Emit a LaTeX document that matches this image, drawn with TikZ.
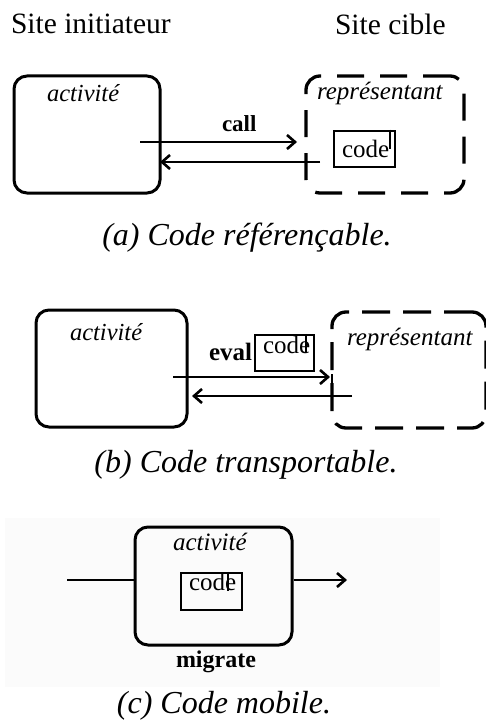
\documentclass[tikz,border=0pt]{standalone}
\usepackage{fontspec}
\setmainfont{Liberation Serif}
\usetikzlibrary{arrows.meta}
\begin{document}
\begin{tikzpicture}[x=1pt,y=-1pt,
  txt/.style={inner sep=0pt, outer sep=0pt, anchor=base west},
  head/.style={txt, font=\fontsize{29.5}{30}\selectfont},
  lab/.style={txt, font=\fontsize{24.5}{25}\selectfont\itshape},
  blab/.style={txt, font=\fontsize{24}{25}\selectfont\bfseries},
  captext/.style={inner sep=0pt, anchor=base, font=\fontsize{32}{32}\selectfont\itshape},
  codetxt/.style={txt, font=\fontsize{25}{25}\selectfont},
  actbox/.style={draw, line width=3pt, rounded corners=13pt, inner sep=0pt},
  repbox/.style={draw, line width=3.3pt, rounded corners=14pt, inner sep=0pt, dash pattern=on 27pt off 16pt},
  codebox/.style={draw, line width=2.5pt, inner sep=0pt},
  tick/.style={line width=1.6pt},
  arr/.style={-{Straight Barb[length=8pt,width=14pt,line width=2.6pt]}},
]
\fill[white] (0,0) rectangle (485,722);
\useasboundingbox (0,0) rectangle (485,722);

% headings
\node[head] (h1) at (11,34) {Site initiateur};
\node[head] (h2) at (335,35) {Site cible};

% ---------- (a)
\node[actbox, minimum width=146pt, minimum height=117pt] (actA) at (87,134.5) {};
\node[lab] (actAl) at (47,102) {activité};
\node[repbox, minimum width=158pt, minimum height=117pt] (repA) at (385,134.5) {};
\node[lab, font=\fontsize{25}{25}\selectfont\itshape] (repAl) at (317,100) {représentant};
\node[codebox, minimum width=61pt, minimum height=36pt] (codeA) at (364.5,149) {};
\node[codetxt] (codeAt) at (342,158) {code};
\draw[tick] (codeA.north east) ++(-6,0) coordinate (tAa) -- ++(0,19) coordinate (tAb);
\coordinate (callS) at (140,142);
\coordinate (callE) at (297,142);
\coordinate (retS) at (320,162);
\coordinate (retE) at (160,162);
\draw[arr, line width=1.5pt] (callS) -- (callE);
\draw[arr, line width=1.5pt] (retS) -- (retE);
\node[blab, font=\fontsize{23}{24}\selectfont\bfseries] (callL) at (222,132) {call};
\node[captext] (capA) at (247,245) {(a) Code référençable.};

% ---------- (b)
\node[actbox, minimum width=151pt, minimum height=117pt] (actB) at (111.5,368.5) {};
\node[lab] (actBl) at (70,340) {activité};
\node[repbox, dash pattern=on 28pt off 13pt, minimum width=154pt, minimum height=116pt] (repB) at (409,370) {};
\node[lab, font=\fontsize{25}{25}\selectfont\itshape] (repBl) at (347,345) {représentant};
\node[codebox, minimum width=59pt, minimum height=36pt] (codeB) at (284.5,353) {};
\node[codetxt] (codeBt) at (263,353) {code};
\draw[tick] (codeB.north east) ++(-9,0) coordinate (tBa) -- ++(0,19) coordinate (tBb);
\node[blab, font=\fontsize{25}{25}\selectfont\bfseries] (evalL) at (209,360) {eval};
\coordinate (evS) at (173,377);
\coordinate (evE) at (330,377);
\coordinate (vT) at (332,374);
\coordinate (vB) at (332,397);
\coordinate (rbS) at (352,396);
\coordinate (rbE) at (192,396);
\draw[arr, line width=2.3pt] (evS) -- (evE);
\draw[line width=2.5pt] (vT) -- (vB);
\draw[arr, line width=2.5pt] (rbS) -- (rbE);
\node[captext] (capB) at (246,472) {(b) Code transportable.};

% ---------- (c)
\fill[black!1.5] (5,518) rectangle (440,687);
\node[actbox, minimum width=157pt, minimum height=118pt] (actC) at (213.5,586) {};
\node[lab, font=\fontsize{25}{25}\selectfont\itshape] (actCl) at (173,550) {activité};
\node[codebox, minimum width=61pt, minimum height=37pt] (codeC) at (211.5,591.5) {};
\node[codetxt] (codeCt) at (189,590) {code};
\draw[tick] (codeC.north east) ++(-15,0) coordinate (tCa) -- ++(0,19) coordinate (tCb);
\coordinate (inS) at (67,580);
\coordinate (outE) at (347,580);
\draw[line width=2.8pt] (inS) -- (inS -| actC.west);
\draw[arr, line width=2.8pt] (outE -| actC.east) -- (outE);
\node[blab] (migL) at (176,667) {migrate};
\node[captext] (capC) at (224,713) {(c) Code mobile.};
\end{tikzpicture}
\end{document}
